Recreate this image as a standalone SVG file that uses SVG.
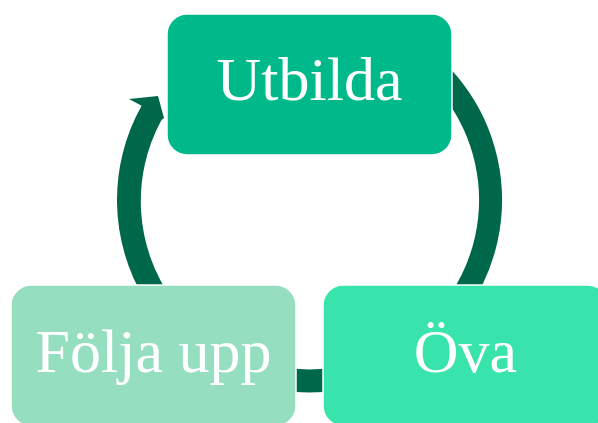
<svg xmlns="http://www.w3.org/2000/svg" width="598" height="423" viewBox="0 0 598 423">
  <style>
    .arc { fill: none; stroke: #00684A; stroke-width: 23; stroke-linecap: butt; }
    .arrow { fill: #00684A; stroke: none; }
    .box { stroke: #ffffff; stroke-width: 1.5; }
    .label { font-family: "Liberation Serif", "Times New Roman", serif; font-size: 62px; fill: #ffffff; text-anchor: middle; }
  </style>
  <rect width="598" height="423" fill="#ffffff"/>
  <g id="connectors">
    <path class="arc" d="M 400 43.2 A 181 181 0 0 1 457.8 303.8"/>
    <path class="arc" d="M 340.9 378.2 A 181 181 0 0 1 278.1 378.2"/>
    <path class="arrow" d="M 145 300 A 192.5 192.5 0 0 1 141.6 105.8 L 129 99 L 158 96 L 164 118 L 161.5 120 A 169.5 169.5 0 0 0 172.6 300 Z"/>
  </g>
  <g id="node-utbilda">
    <rect class="box" x="167" y="14" width="285" height="141" rx="20" fill="#00B98A"/>
    <text class="label" x="309.5" y="100">Utbilda</text>
  </g>
  <g id="node-ova">
    <rect class="box" x="323" y="285" width="285" height="141" rx="20" fill="#38E4AB"/>
    <text class="label" x="465.5" y="372">Öva</text>
  </g>
  <g id="node-folja-upp">
    <rect class="box" x="11" y="285" width="285" height="141" rx="20" fill="#95DFC0"/>
    <text class="label" x="153.5" y="372">Följa upp</text>
  </g>
</svg>
